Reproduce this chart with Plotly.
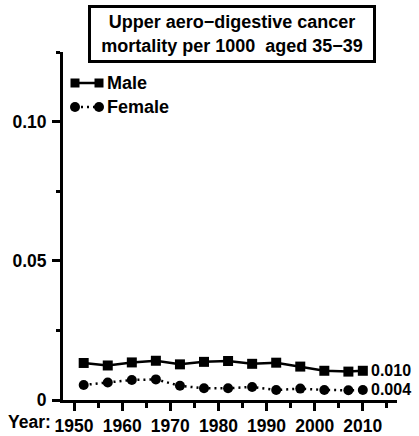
import plotly.graph_objects as go

years = [1952, 1957, 1962, 1967, 1972, 1977, 1982, 1987, 1992, 1997, 2002, 2007, 2010]
male = [0.0133, 0.0124, 0.0135, 0.0141, 0.0128, 0.0137, 0.0140, 0.0130, 0.0134, 0.0120, 0.0105, 0.0102, 0.0105]
female = [0.0054, 0.0063, 0.0072, 0.0074, 0.0051, 0.0042, 0.0042, 0.0047, 0.0036, 0.0041, 0.0036, 0.0035, 0.0036]
series_names = ["Male", "Female"]
end_labels = ["0.010", "0.004"]
x_tick_vals = [1950, 1960, 1970, 1980, 1990, 2000, 2010]
x_tick_text = ["1950", "1960", "1970", "1980", "1990", "2000", "2010"]
x_minor_vals = [1955, 1965, 1975, 1985, 1995, 2005, 2015]
y_tick_vals = [0, 0.05, 0.10]
y_tick_text = ["0", "0.05", "0.10"]
y_minor_vals = [0.025, 0.075, 0.125]
title_text = "Upper aero\u2212digestive cancer<br>mortality per 1000  aged 35\u221239"

W, H = 419, 436
L, R, T, B = 63, 22, 52, 36
FONT = "Liberation Sans"
FS = 17.5

fig = go.Figure()
fig.add_trace(go.Scatter(x=years, y=male, mode="lines+markers", name=series_names[0],
                         line=dict(color="black", width=2.5),
                         marker=dict(symbol="square", size=10, color="black"), showlegend=False))
fig.add_trace(go.Scatter(x=years, y=female, mode="lines+markers", name=series_names[1],
                         line=dict(color="black", width=2.5, dash="2px,4px"),
                         marker=dict(symbol="circle", size=10, color="black"), showlegend=False))

# end labels
for ys, lab in zip([male, female], end_labels):
    fig.add_annotation(x=years[-1], y=ys[-1], text="<b>%s</b>" % lab, showarrow=False,
                       xanchor="left", yanchor="middle", xshift=6,
                       font=dict(family=FONT, size=16, color="black"))

# legend drawn with shapes in paper coords
pw, ph = W - L - R, H - T - B
def px(xp):
    return (xp - L) / pw
def py(yp):
    return (H - B - yp) / ph

leg = [(83, "square", "solid"), (107, "circle", "dot")]
for (yy, sym, dash), name in zip(leg, series_names):
    fig.add_shape(type="line", xref="paper", yref="paper", x0=px(75), x1=px(99), y0=py(yy), y1=py(yy),
                  line=dict(color="black", width=2.5, dash="2px,4px" if dash == "dot" else "solid"))
    for cx in (75, 99):
        if sym == "square":
            fig.add_shape(type="rect", xref="paper", yref="paper", x0=px(cx - 4.5), x1=px(cx + 4.5),
                          y0=py(yy + 4.5), y1=py(yy - 4.5), fillcolor="black", line=dict(width=0))
        else:
            fig.add_shape(type="circle", xref="paper", yref="paper", x0=px(cx - 5), x1=px(cx + 5),
                          y0=py(yy + 5), y1=py(yy - 5), fillcolor="black", line=dict(width=0))
    fig.add_annotation(xref="paper", yref="paper", x=px(105), y=py(yy), text="<b>%s</b>" % name,
                       showarrow=False, xanchor="left", yanchor="middle",
                       font=dict(family=FONT, size=18, color="black"))

# title box
fig.add_annotation(xref="paper", yref="paper", x=px(232), y=py(34), text="<b>%s</b>" % title_text,
                   showarrow=False, xanchor="center", yanchor="middle", width=280, height=50,
                   font=dict(family=FONT, size=18, color="black"),
                   bordercolor="black", borderwidth=3, borderpad=1, bgcolor="white")

# Year label
fig.add_annotation(xref="paper", yref="paper", x=px(6), y=py(422), text="<b>Year:</b>",
                   showarrow=False, xanchor="left", yanchor="middle",
                   font=dict(family=FONT, size=FS, color="black"))

fig.update_layout(
    width=W, height=H, margin=dict(l=L, r=R, t=T, b=B, autoexpand=False),
    plot_bgcolor="white", paper_bgcolor="white",
    font=dict(family=FONT, size=FS, color="black"),
    xaxis=dict(range=[1947.7, 2017.1], showgrid=False, zeroline=False, showline=True, automargin=False,
               linecolor="black", linewidth=3, ticks="outside", ticklen=8, tickwidth=3,
               tickcolor="black", tickvals=x_tick_vals, ticktext=["<b>%s</b>" % t for t in x_tick_text],
               tickfont=dict(family=FONT, size=FS, color="black"), ticklabelstandoff=0,
               minor=dict(tickvals=x_minor_vals, ticks="outside", ticklen=5, tickwidth=3, tickcolor="black")),
    yaxis=dict(range=[0, 0.125], showgrid=False, zeroline=False, showline=True, automargin=False,
               linecolor="black", linewidth=3, ticks="outside", ticklen=8, tickwidth=3,
               tickcolor="black", tickvals=y_tick_vals, ticktext=["<b>%s</b>" % t for t in y_tick_text],
               tickfont=dict(family=FONT, size=FS, color="black"), ticklabelstandoff=2,
               minor=dict(tickvals=y_minor_vals, ticks="outside", ticklen=4, tickwidth=3, tickcolor="black")),
)

fig.write_html("out.html", config={"displayModeBar": False},
               post_script="document.body.style.margin='0px';document.body.style.overflow='hidden';")
